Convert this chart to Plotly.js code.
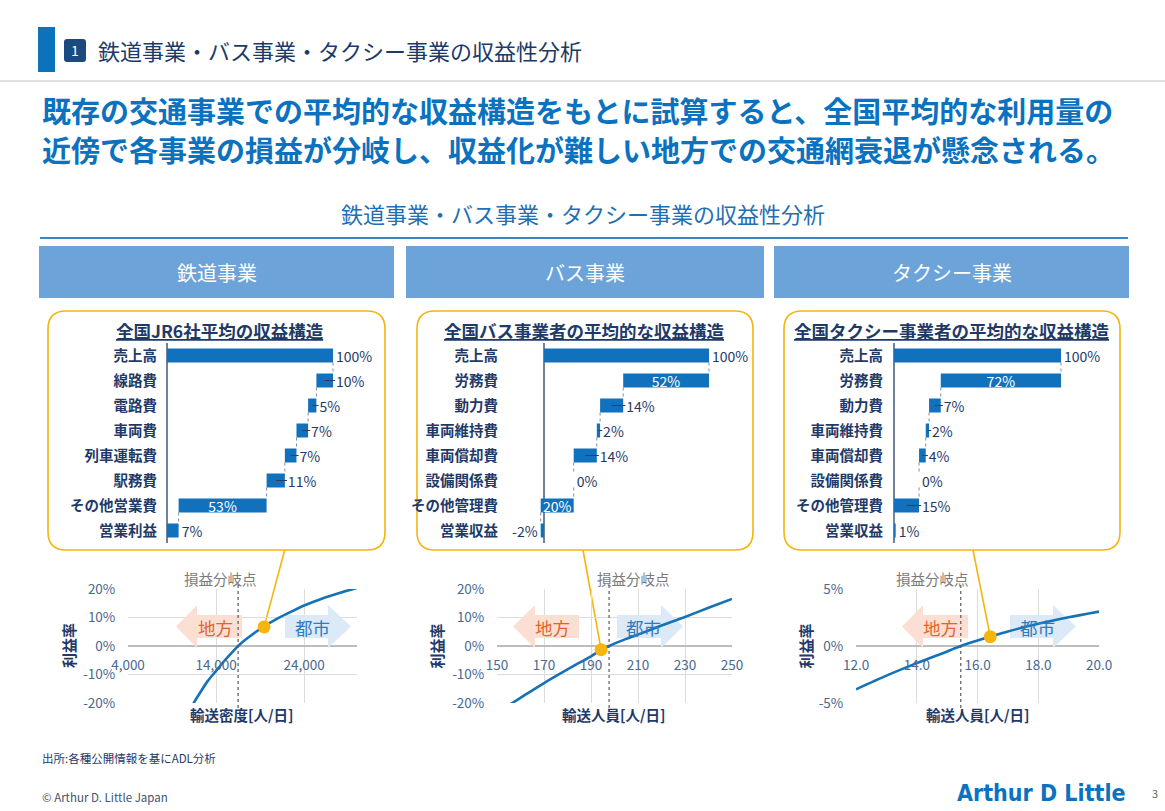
<!DOCTYPE html>
<html>
<head>
<meta charset="utf-8">
<script src="https://cdn.plot.ly/plotly-3.0.1.min.js"></script>
<style>
  html, body { margin: 0; padding: 0; background: #ffffff; }
  #chart { width: 1165px; height: 811px; }
</style>
</head>
<body>
<div id="chart"></div>
<script>
// ---------- data ----------
const railItems  = ['売上高', '線路費', '電路費', '車両費', '列車運転費', '駅務費', 'その他営業費', '営業利益'];
const railValues = [100, 10, 5, 7, 7, 11, 53, 7];

const busItems  = ['売上高', '労務費', '動力費', '車両維持費', '車両償却費', '設備関係費', 'その他管理費', '営業収益'];
const busValues = [100, 52, 14, 2, 14, 0, 20, -2];

const taxiItems  = ['売上高', '労務費', '動力費', '車両維持費', '車両償却費', '設備関係費', 'その他管理費', '営業収益'];
const taxiValues = [100, 72, 7, 2, 4, 0, 15, 1];

// profit margin (%) against traffic volume
const railDensity = [11200, 12000, 13000, 14000, 15000, 16000, 16500, 17500, 18500, 19500, 21000, 22500, 24000, 26000, 28000, 30000];
const railMargin  = [-21.3, -17.3, -12.5, -8.7, -5.0, -1.6, 0, 2.6, 4.9, 7.0, 9.7, 12.0, 14.2, 16.6, 18.6, 20.4];

const busRiders = [155, 160, 170, 180, 190, 194.3, 197.7, 205, 210, 220, 230, 240, 250];
const busMargin = [-20.8, -18.2, -13.0, -8.2, -3.6, -1.4, 0, 2.5, 4.0, 7.2, 10.2, 13.4, 16.5];

const taxiRiders = [12, 13, 14, 15, 15.45, 16, 16.42, 17, 18, 19, 20];
const taxiMargin = [-3.8, -2.6, -1.5, -0.48, 0, 0.48, 0.82, 1.28, 1.95, 2.52, 3.02];

// current average position and break-even volume (rail, bus, taxi)
const currentVolume = [19450, 194.3, 16.42];
const currentMargin = [6.7, -1.3, 0.82];
const breakEven     = [16500, 197.7, 15.45];

// axis ticks
const railTicks = [4000, 14000, 24000];
const busTicks  = [150, 170, 190, 210, 230, 250];
const taxiTicks = [12, 14, 16, 18, 20];
const marginTicksWide   = [-20, -10, 0, 10, 20];
const marginTicksNarrow = [-5, 0, 5];

// ---------- page geometry helpers ----------
const W = 1165, H = 811;
const px = x => x / W;
const py = y => 1 - y / H;
const FONT = "'Noto Sans CJK JP', 'Noto Sans', sans-serif";
const NAVY = '#1f3a68';
const BAR = '#1271bc';
const LINE = '#1572b6';
const TICK = '#4a6890';
const GOLD = '#f5b50d';

const traces = [];
const shapes = [];
const annotations = [];
const layout = {
  width: W, height: H,
  margin: {l: 0, r: 0, t: 0, b: 0},
  paper_bgcolor: '#ffffff', plot_bgcolor: 'rgba(0,0,0,0)',
  showlegend: false, hovermode: false,
  font: {family: FONT, color: NAVY},
  shapes: shapes, annotations: annotations
};

function label(x, y, text, size, color, opts) {
  annotations.push(Object.assign({
    xref: 'paper', yref: 'paper', x: px(x), y: py(y), text: text,
    showarrow: false, xanchor: 'center', yanchor: 'middle',
    font: {family: FONT, size: size, color: color}
  }, opts || {}));
}

function rect(x0, y0, x1, y1, fill, layer) {
  shapes.push({type: 'rect', xref: 'paper', yref: 'paper',
    x0: px(x0), x1: px(x1), y0: py(y1), y1: py(y0),
    fillcolor: fill, line: {width: 0}, layer: layer || 'below'});
}

function roundRect(x0, y0, x1, y1, r) {
  const X = v => px(v).toFixed(5), Y = v => py(v).toFixed(5);
  return `M${X(x0 + r)},${Y(y0)} L${X(x1 - r)},${Y(y0)} Q${X(x1)},${Y(y0)} ${X(x1)},${Y(y0 + r)} ` +
         `L${X(x1)},${Y(y1 - r)} Q${X(x1)},${Y(y1)} ${X(x1 - r)},${Y(y1)} ` +
         `L${X(x0 + r)},${Y(y1)} Q${X(x0)},${Y(y1)} ${X(x0)},${Y(y1 - r)} ` +
         `L${X(x0)},${Y(y0 + r)} Q${X(x0)},${Y(y0)} ${X(x0 + r)},${Y(y0)} Z`;
}

// ---------- slide header ----------
rect(38, 27, 55, 72, '#0d72be');
shapes.push({type: 'path', xref: 'paper', yref: 'paper', path: roundRect(64, 39, 86, 62, 3),
  fillcolor: '#1b4a7e', line: {width: 0}, layer: 'below'});
label(75, 50.5, '1', 14, '#ffffff');
label(96, 50, '鉄道事業・バス事業・タクシー事業の収益性分析', 22, '#1b3a68', {xanchor: 'left'});
shapes.push({type: 'line', xref: 'paper', yref: 'paper', x0: 0, x1: 1, y0: py(81), y1: py(81),
  line: {color: '#d4d4d4', width: 1.5}, layer: 'below'});

label(40, 110, '<b>既存の交通事業での平均的な収益構造をもとに試算すると、全国平均的な利用量の</b>', 29, '#0b72bf', {xanchor: 'left'});
label(40, 149, '<b>近傍で各事業の損益が分岐し、収益化が難しい地方での交通網衰退が懸念される。</b>', 29, '#0b72bf', {xanchor: 'left'});

label(583, 213, '鉄道事業・バス事業・タクシー事業の収益性分析', 22, '#1f6fb4');
shapes.push({type: 'line', xref: 'paper', yref: 'paper', x0: px(40), x1: px(1128), y0: py(238), y1: py(238),
  line: {color: '#3a86c4', width: 2}, layer: 'below'});

// ---------- column headers and frames ----------
const columns = [
  {name: '鉄道事業',     hx0: 39,  hx1: 394,  bx0: 48,  bx1: 385,
   title: '全国JR6社平均の収益構造', tx: 220},
  {name: 'バス事業',     hx0: 406, hx1: 764,  bx0: 417, bx1: 753,
   title: '全国バス事業者の平均的な収益構造', tx: 584},
  {name: 'タクシー事業', hx0: 774, hx1: 1129, bx0: 784, bx1: 1120,
   title: '全国タクシー事業者の平均的な収益構造', tx: 951}
];
columns.forEach(c => {
  rect(c.hx0, 246, c.hx1, 298, '#6ca4d9');
  label((c.hx0 + c.hx1) / 2, 272, c.name, 20, '#ffffff');
  shapes.push({type: 'path', xref: 'paper', yref: 'paper', path: roundRect(c.bx0, 311, c.bx1, 550, 18),
    fillcolor: 'rgba(0,0,0,0)', line: {color: GOLD, width: 1.6}, layer: 'below'});
  label(c.tx, 330, '<b><span style="text-decoration:underline">' + c.title + '</span></b>', 17.5, NAVY);
});

// ---------- waterfall panels ----------
const wfPanels = [
  {items: railItems, values: railValues, inside: [6],    x0: 158, x1: 380,  zero: 167, scale: 1.66},
  {items: busItems,  values: busValues,  inside: [1, 6], x0: 499, x1: 760,  zero: 544, scale: 1.65},
  {items: taxiItems, values: taxiValues, inside: [1],    x0: 884, x1: 1112, zero: 894, scale: 1.67}
];
const BAR_W = 0.56;

wfPanels.forEach((p, k) => {
  const n = p.values.length;
  const sfx = k === 0 ? '' : String(k + 1);
  const xa = 'x' + sfx, ya = 'y' + sfx;

  // bar extents: revenue from 0, each cost stepping down from the running level, profit from 0
  const base = [0], size = [p.values[0]], level = [p.values[0]];
  let run = p.values[0];
  for (let i = 1; i < n - 1; i++) {
    run -= p.values[i];
    base.push(run); size.push(p.values[i]); level.push(run);
  }
  base.push(0); size.push(p.values[n - 1]);

  const idx = p.values.map((_, i) => i);
  const pos = idx.map(i => p.inside.includes(i) ? 'inside' : 'outside');

  traces.push({
    type: 'bar', orientation: 'h', xaxis: xa, yaxis: ya,
    y: idx, x: size, base: base, width: BAR_W,
    marker: {color: BAR, line: {width: 0}},
    text: p.values.map(v => v + '%'), textposition: pos, textangle: 0,
    insidetextanchor: 'middle', constraintext: 'none', cliponaxis: false,
    textfont: {family: FONT, size: 14, color: NAVY},
    insidetextfont: {family: FONT, size: 14, color: '#ffffff'},
    outsidetextfont: {family: FONT, size: 14, color: NAVY},
    hoverinfo: 'skip'
  });

  // short leader ticks from the middle of each cost bar to its outside label
  const lx = [], ly = [];
  for (let i = 1; i < n - 1; i++) {
    if (pos[i] === 'outside' && p.values[i] > 0) {
      lx.push(base[i] + size[i] / 2, base[i] + size[i] + 1.3, null);
      ly.push(i, i, null);
    }
  }
  traces.push({type: 'scatter', mode: 'lines', xaxis: xa, yaxis: ya, x: lx, y: ly,
    line: {color: '#2a3f66', width: 1}, hoverinfo: 'skip', cliponaxis: false});

  // dotted connectors between consecutive steps
  const cx = [], cy = [];
  for (let i = 0; i < n - 1; i++) {
    cx.push(level[i], level[i], null);
    cy.push(i + BAR_W / 2, i + 1 - BAR_W / 2, null);
  }
  traces.push({type: 'scatter', mode: 'lines', xaxis: xa, yaxis: ya, x: cx, y: cy,
    line: {color: '#7d8ca3', width: 1, dash: 'dot'}, hoverinfo: 'skip'});

  layout['xaxis' + sfx] = {
    domain: [px(p.x0), px(p.x1)], anchor: ya,
    range: [(p.x0 - p.zero) / p.scale, (p.x1 - p.zero) / p.scale],
    showticklabels: false, ticks: '', showgrid: false, showline: false,
    zeroline: true, zerolinecolor: '#6f829c', zerolinewidth: 1.5, fixedrange: true
  };
  layout['yaxis' + sfx] = {
    domain: [py(543), py(343)], anchor: xa,
    range: [n - 0.5, -0.5], tickmode: 'array', tickvals: idx, ticktext: p.items,
    ticks: '', showgrid: false, zeroline: false, showline: false, fixedrange: true,
    tickfont: {family: FONT, size: 14.5, color: NAVY, weight: 700}
  };
});

// ---------- profit margin curves ----------
const linePanels = [
  {x: railDensity, y: railMargin, x0: 128, x1: 357, xr: [4000, 30000], ticks: railTicks, fmt: ',',
   yr: [-20, 20], yticks: marginTicksWide, title: '輸送密度[人/日]', tx: 242, yt: 68,
   left: [176, 197, 242], right: [285, 328, 351], lt: 215, rt: 312, be: 220, call: 284.7},
  {x: busRiders, y: busMargin, x0: 497, x1: 732, xr: [150, 250], ticks: busTicks, fmt: 'd',
   yr: [-20, 20], yticks: marginTicksWide, title: '輸送人員[人/日]', tx: 614, yt: 435.5,
   left: [513, 535, 579], right: [617, 661, 683], lt: 552, rt: 643, be: 633, call: 583},
  {x: taxiRiders, y: taxiMargin, x0: 856, x1: 1099, xr: [12, 20], ticks: taxiTicks, fmt: '.1f',
   yr: [-5, 5], yticks: marginTicksNarrow, title: '輸送人員[人/日]', tx: 978, yt: 804.5,
   left: [902, 923, 968], right: [1010, 1053, 1076], lt: 940, rt: 1037, be: 932, call: 973}
];
const PY0 = 589, PY1 = 703, ZERO_Y = 646;

linePanels.forEach((p, k) => {
  const sfx = String(k + 4);
  const xa = 'x' + sfx, ya = 'y' + sfx;
  const dx = v => p.xr[0] + (v - p.x0) / (p.x1 - p.x0) * (p.xr[1] - p.xr[0]);
  const dy = v => p.yr[1] - (v - PY0) / (PY1 - PY0) * (p.yr[1] - p.yr[0]);

  layout['xaxis' + sfx] = {
    domain: [px(p.x0), px(p.x1)], anchor: 'free', position: py(ZERO_Y),
    range: p.xr, tickmode: 'array', tickvals: p.ticks, tickformat: p.fmt,
    ticks: 'outside', ticklen: 7, tickcolor: 'rgba(0,0,0,0)',
    showgrid: true, gridcolor: '#dcdcdc', gridwidth: 1, zeroline: false, showline: false,
    tickfont: {family: FONT, size: 13.5, color: TICK}, fixedrange: true
  };
  layout['yaxis' + sfx] = {
    domain: [py(PY1), py(PY0)], anchor: xa,
    range: p.yr, tickmode: 'array', tickvals: p.yticks, ticktext: p.yticks.map(v => v + '%'),
    ticks: 'outside', ticklen: 9, tickcolor: 'rgba(0,0,0,0)',
    showgrid: true, gridcolor: '#dcdcdc', gridwidth: 1,
    zeroline: true, zerolinecolor: '#bdbdbd', zerolinewidth: 1.2, showline: false,
    tickfont: {family: FONT, size: 13.5, color: TICK}, fixedrange: true
  };

  // region arrows: rural (left) and urban (right)
  const hT = dy(605), hB = dy(648), bT = dy(615), bB = dy(638), mid = dy(626.5);
  const L = p.left.map(dx), R = p.right.map(dx);
  shapes.push({type: 'path', xref: xa, yref: ya, layer: 'between', fillcolor: '#fbdfd2', line: {width: 0},
    path: `M${L[0]},${mid} L${L[1]},${hT} L${L[1]},${bT} L${L[2]},${bT} L${L[2]},${bB} L${L[1]},${bB} L${L[1]},${hB} Z`});
  shapes.push({type: 'path', xref: xa, yref: ya, layer: 'between', fillcolor: '#dce9f7', line: {width: 0},
    path: `M${R[2]},${mid} L${R[1]},${hT} L${R[1]},${bT} L${R[0]},${bT} L${R[0]},${bB} L${R[1]},${bB} L${R[1]},${hB} Z`});

  // break-even marker
  shapes.push({type: 'line', xref: xa, yref: 'paper', layer: 'above',
    x0: breakEven[k], x1: breakEven[k], y0: py(585), y1: py(708),
    line: {color: '#595959', width: 1.2, dash: 'dot'}});

  traces.push({type: 'scatter', mode: 'lines', xaxis: xa, yaxis: ya, x: p.x, y: p.y,
    line: {color: LINE, width: 2.6, shape: 'spline', smoothing: 0.8}, hoverinfo: 'skip'});

  // callout from the structure frame down to the current average
  const dotPX = p.x0 + (currentVolume[k] - p.xr[0]) / (p.xr[1] - p.xr[0]) * (p.x1 - p.x0);
  const dotPY = PY0 + (p.yr[1] - currentMargin[k]) / (p.yr[1] - p.yr[0]) * (PY1 - PY0);
  shapes.push({type: 'line', xref: 'paper', yref: 'paper', layer: 'below',
    x0: px(p.call), y0: py(550), x1: px(dotPX), y1: py(dotPY),
    line: {color: GOLD, width: 1.6}});

  traces.push({type: 'scatter', mode: 'markers', xaxis: xa, yaxis: ya,
    x: [currentVolume[k]], y: [currentMargin[k]], cliponaxis: false,
    marker: {color: GOLD, size: 13, line: {width: 0}}, hoverinfo: 'skip'});

  label(p.lt, 627, '地方', 17.5, '#e0652c');
  label(p.rt, 627, '都市', 17.5, '#2e7bbf');
  label(p.be, 578, '損益分岐点', 14.5, '#7a7a7a');
  label(p.tx, 714, '<b>' + p.title + '</b>', 14.5, NAVY);
  label(p.yt, 646, '<b>利益率</b>', 15, NAVY, {textangle: -90});
});

// ---------- footer ----------
label(40, 758, '出所:各種公開情報を基にADL分析', 11.5, NAVY, {xanchor: 'left'});
label(40, 797, '© Arthur D. Little Japan', 11.5, '#44546a', {xanchor: 'left'});
label(1128, 793, '<b>Arthur D Little</b>', 23, '#0b72bf',
  {xanchor: 'right', font: {family: "'DejaVu Sans Condensed', 'DejaVu Sans', sans-serif", size: 23, color: '#0b72bf'}});
label(1155, 793, '3', 11, '#666666');

Plotly.newPlot('chart', traces, layout, {staticPlot: true, displayModeBar: false});
</script>
</body>
</html>
